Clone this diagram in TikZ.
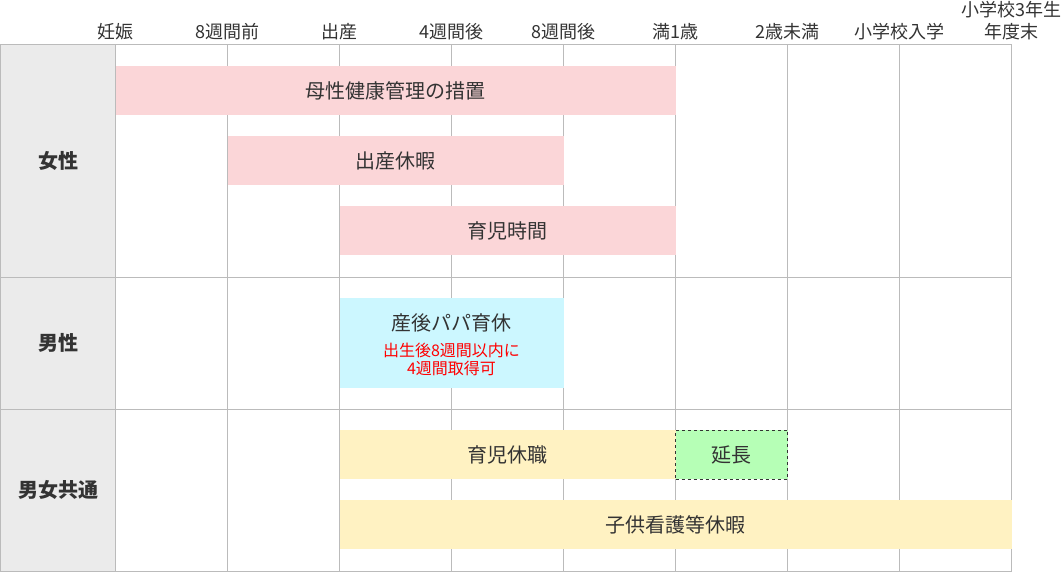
\documentclass[tikz,border=0pt]{standalone}
\usepackage{fontspec}
\setmainfont{Noto Sans CJK JP}
\definecolor{inkgray}{RGB}{51,51,51}
\definecolor{gridgray}{RGB}{187,187,187}
\definecolor{headgray}{RGB}{235,235,235}
\definecolor{pinkbar}{RGB}{251,214,216}
\definecolor{cyanbar}{RGB}{204,247,255}
\definecolor{yellowbar}{RGB}{255,242,194}
\definecolor{greenbar}{RGB}{182,255,182}

\begin{document}
\begin{tikzpicture}[x=1pt, y=-1pt,
        every node/.style={text=inkgray},
        head/.style={font=\fontsize{18}{22}\selectfont, align=center},
        rowlabel/.style={font=\bfseries\fontsize{20}{22}\selectfont},
        bar/.style={anchor=north west, inner sep=0pt, outer sep=0pt,
            minimum height=49pt, font=\fontsize{20}{22}\selectfont},
        gridline/.style={draw=gridgray, line width=1pt}]
        \useasboundingbox (0, 0) rectangle (1062, 572);
        \fill [headgray] (.5, 44.5) rectangle (115.5, 571.5);
        \foreach \i in {0, ..., 8} {
            \draw [gridline] (115.5 + 112 * \i, 44.5) -- (115.5 + 112 * \i, 571.5);
        }
        \draw [gridline] (.5, 44.5) rectangle (1011.5, 571.5);
        \draw [gridline] (.5, 277.5) -- (1011.5, 277.5)
            (.5, 409.5) -- (1011.5, 409.5);
        % time axis
        \foreach \t [count=\i from 0] in {妊娠, 8週間前, 出産, 4週間後, 8週間後, 満1歳, 2歳未満, 小学校入学} {
            \node [head] (tick\i) at (115.5 + 112 * \i, 32) {\t};
        }
        \node [head] (tick8) at (1011.5, 21) {小学校3年生\\年度末};
        % rows
        \node [rowlabel] (female) at (58, 161) {女性};
        \node [rowlabel] (male) at (58, 343) {男性};
        \node [rowlabel] (both) at (58, 490) {男女共通};
        % bars
        \node [bar, fill=pinkbar, minimum width=560pt] (hoken) at (115.5, 66) {母性健康管理の措置};
        \node [bar, fill=pinkbar, minimum width=336pt] (sankyu) at (227.5, 136) {出産休暇};
        \node [bar, fill=pinkbar, minimum width=336pt] (ikuji) at (339.5, 206) {育児時間};
        \node [bar, fill=cyanbar, minimum width=224pt, minimum height=90pt] (papa) at (339.5, 298) {};
        \node [font=\fontsize{20}{22}\selectfont] (papatitle) at ([yshift=20pt]papa.center) {産後パパ育休};
        \node [text=red, align=center, font=\fontsize{16}{18}\selectfont] (papanote)
            at ([yshift=-16pt]papa.center) {出生後8週間以内に\\4週間取得可};
        \node [bar, fill=yellowbar, minimum width=336pt] (ikukyu) at (339.5, 430) {育児休職};
        \node [bar, fill=greenbar, minimum width=112pt, draw=inkgray, dashed, line width=.8pt] (encho) at (675.5, 430) {延長};
        \node [bar, fill=yellowbar, minimum width=672pt] (kango) at (339.5, 500) {子供看護等休暇};
    \end{tikzpicture}
\end{document}
